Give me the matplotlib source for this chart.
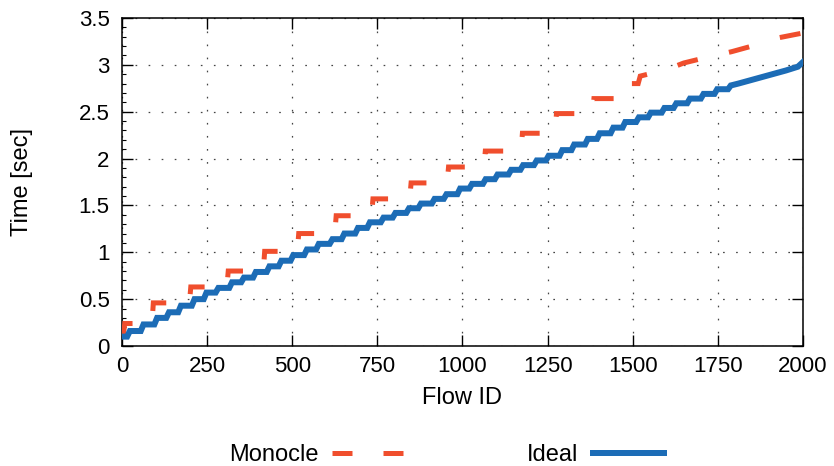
import numpy as np
import matplotlib.pyplot as plt
from matplotlib.lines import Line2D

plt.rcParams['font.family'] = ['Liberation Sans', 'DejaVu Sans']
plt.rcParams['lines.scale_dashes'] = False

# Ideal: staircase (flow where a step starts, level after it) + smooth tail
ideal_step_x = [0, 15, 55, 95, 130, 165, 205, 240, 275, 315, 350, 385, 425, 460,
                495, 535, 570, 610, 645, 685, 720, 760, 795, 835, 870, 910, 945,
                985, 1020, 1060, 1095, 1135, 1170, 1210, 1245, 1285, 1320, 1360,
                1395, 1435, 1470, 1510, 1545, 1585, 1620, 1660, 1700, 1740, 1780]
ideal_step_y = [0.10, 0.16, 0.23, 0.30, 0.36, 0.43, 0.50, 0.57, 0.62, 0.68, 0.73,
                0.79, 0.85, 0.91, 0.97, 1.03, 1.09, 1.14, 1.20, 1.26, 1.32, 1.37,
                1.42, 1.47, 1.52, 1.57, 1.62, 1.68, 1.73, 1.78, 1.83, 1.88, 1.93,
                1.98, 2.03, 2.09, 2.15, 2.21, 2.27, 2.33, 2.39, 2.44, 2.49, 2.54,
                2.59, 2.64, 2.69, 2.74, 2.78]
ideal_tail_x = [1810, 1850, 1900, 1950, 1985, 2000]
ideal_tail_y = [2.80, 2.84, 2.89, 2.94, 2.98, 3.03]
rise_width = 8  # flows taken by each rise of the staircase

# Monocle
mono_x = [0, 5, 8, 88, 92, 198, 202, 308, 312, 415, 419, 515, 519, 625, 629, 733,
          737, 845, 849, 955, 959, 1063, 1067, 1172, 1176, 1272, 1276, 1382, 1386,
          1468, 1472, 1516, 1522, 1600, 1650, 1740, 1790, 1880, 1930, 2000]
mono_y = [0.15, 0.15, 0.24, 0.24, 0.46, 0.46, 0.63, 0.63, 0.80, 0.80, 1.01, 1.01,
          1.20, 1.20, 1.39, 1.39, 1.57, 1.57, 1.74, 1.74, 1.91, 1.91, 2.08, 2.08,
          2.27, 2.27, 2.48, 2.48, 2.64, 2.64, 2.80, 2.80, 2.88, 2.95, 3.02, 3.10,
          3.14, 3.23, 3.29, 3.34]

xticks = [0, 250, 500, 750, 1000, 1250, 1500, 1750, 2000]
yticks = [0, 0.5, 1, 1.5, 2, 2.5, 3, 3.5]
ytick_labels = ['0', '0.5', '1', '1.5', '2', '2.5', '3', '3.5']

sx = np.array(ideal_step_x)
sy = np.array(ideal_step_y)
lo_x = sx[1:]
hi_x = sx[1:] + rise_width
stair_x = np.column_stack([lo_x, hi_x]).ravel()
stair_y = np.column_stack([sy[:-1], sy[1:]]).ravel()
ix = np.concatenate([[sx[0]], stair_x, ideal_tail_x])
iy = np.concatenate([[sy[0]], stair_y, ideal_tail_y])

mono_color = '#f04e2d'
ideal_color = '#1c6cb6'

fig = plt.figure(figsize=(8.34, 4.66), dpi=100)
ax = fig.add_axes([0.1463, 0.2575, 0.8165, 0.7039])

px = 0.72  # points per pixel
ax.plot(mono_x, mono_y, color=mono_color, lw=5 * px,
        linestyle=(3 * px, (21 * px, 32 * px)),
        dash_joinstyle='miter', zorder=3)
ax.plot(ix, iy, color=ideal_color, lw=6 * px, solid_joinstyle='miter', zorder=4)

ax.set_xlim(0, 2000)
ax.set_ylim(0, 3.5)
ax.set_xticks(xticks)
ax.set_yticks(yticks)
ax.set_yticklabels(ytick_labels)
ax.set_yticks(np.arange(0, 3.51, 0.1), minor=True)
ax.tick_params(which='major', direction='in', length=8, width=1, labelsize=16,
               top=True, right=True)
ax.tick_params(axis='x', pad=7)
ax.tick_params(axis='y', pad=9)
ax.tick_params(which='minor', direction='in', length=3, width=0.8)
ax.grid(True, which='major', color='#444444', lw=0.9, dashes=(1.2, 8.2))
for s in ax.spines.values():
    s.set_linewidth(1.1)

ax.set_xlabel('Flow ID', fontsize=17)
ax.xaxis.set_label_coords(0.5, -0.159)
ax.xaxis.label.set_va('center')
ax.set_ylabel('Time [sec]', fontsize=17)
ax.yaxis.set_label_coords(-0.147, 0.5)
ax.yaxis.label.set_va('center')

handles = [
    Line2D([], [], color=mono_color, lw=5 * px, linestyle=(0, (20 * px, 31 * px))),
    Line2D([], [], color=ideal_color, lw=6 * px),
]
fig.legend(handles, ['Monocle', 'Ideal'], loc='center',
           bbox_to_anchor=(0.535, 0.024), ncol=2, frameon=False,
           markerfirst=False, fontsize=17, handlelength=3.0, handletextpad=0.6,
           columnspacing=5.25)

fig.savefig('out.png', dpi=100)
